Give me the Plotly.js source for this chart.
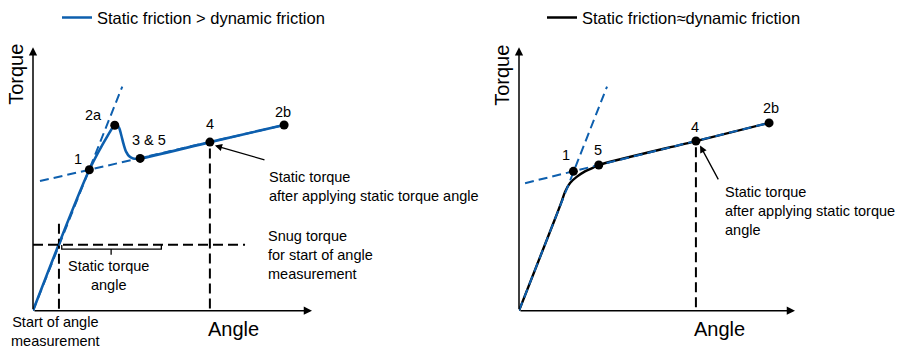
<!DOCTYPE html>
<html>
<head>
<meta charset="utf-8">
<script src="https://cdn.plot.ly/plotly-3.0.1.min.js"></script>
<style>html,body{margin:0;padding:0;background:#fff;}#chart{width:899px;height:350px;}</style>
</head>
<body>
<div id="chart"></div>
<script>
// ---------- Data (schematic units: angle 0-100, torque 0-100) ----------
// Left panel: static friction > dynamic friction
const leftCurveAngle  = [0, 20.2, 27.4, 28.8, 29.8, 30.8, 31.6, 32.5, 33.4, 34.6, 35.9, 38.4, 63.4, 90.0];
const leftCurveTorque = [0, 53.5, 67.6, 69.9, 70.5, 69.6, 66.8, 63.1, 60.3, 58.5, 57.8, 57.8, 64.0, 70.5];
const leftPointAngle  = [20.2, 29.3, 38.4, 63.4, 90.0];
const leftPointTorque = [53.5, 70.4, 57.8, 64.0, 70.5];
const leftPointLabels = ['1', '2a', '3 & 5', '4', '2b'];
const leftSteepAngle  = [0, 32];
const leftSteepTorque = [0, 85.1];
const leftFlatAngle   = [2.5, 90];
const leftFlatTorque  = [49.2, 70.5];
const snugAngle       = [0, 76];
const snugTorque      = [25, 25];
const snugStartAngle  = [9.3, 9.3];
const snugStartTorque = [33, 0];
const leftFinalAngle  = [63.4, 63.4];
const leftFinalTorque = [61.6, 0];
const bracketAngle    = [10.3, 10.3, 28, 28, 28, 46, 46];
const bracketTorque   = [24.9, 23.4, 23.4, 21.2, 23.4, 23.4, 24.9];

// Right panel: static friction ≈ dynamic friction
const rightCurveAngle  = [0, 13, 15.5, 16.7, 18.5, 20.9, 23.9, 26.9, 28.9, 64.1, 90.6];
const rightCurveTorque = [0, 34.7, 41.6, 45.2, 48.5, 50.8, 52.9, 54.3, 55.3, 64.4, 71.3];
const rightPointAngle  = [19.7, 28.9, 64.1, 90.6];
const rightPointTorque = [52.9, 55.3, 64.4, 71.3];
const rightPointLabels = ['1', '5', '4', '2b'];
const rightSteepAngle  = [0, 31.9];
const rightSteepTorque = [0, 85.1];
const rightFlatAngle   = [2.2, 90.6];
const rightFlatTorque  = [48.4, 71.3];
const rightFinalAngle  = [64.1, 64.1];
const rightFinalTorque = [62, 0];

const seriesNames = ['Static friction > dynamic friction', 'Static friction\u2248dynamic friction'];

// ---------- Styles ----------
const FONT = 'Liberation Sans, Arial, sans-serif';
const BLUE = '#0d5fae';
const BLACK = '#000000';
const leftLabelShift  = [[-11, 11], [-21, 10], [9, 18], [0, 18], [-1, 13]];
const rightLabelShift = [[-7, 16], [-1, 15], [-1, 14], [2, 15]];

function line(x, y, xa, ya, color, width, dash, extra) {
  return Object.assign({
    x: x, y: y, xaxis: xa, yaxis: ya, type: 'scatter', mode: 'lines',
    line: {color: color, width: width, dash: dash || 'solid'},
    hoverinfo: 'skip', showlegend: false, cliponaxis: false
  }, extra || {});
}

const traces = [
  // left
  line(leftCurveAngle, leftCurveTorque, 'x', 'y', BLUE, 2.6, 'solid',
       {name: seriesNames[0], showlegend: true, legend: 'legend', line: {color: BLUE, width: 2.6, shape: 'spline', smoothing: 0.8}}),
  line(snugAngle, snugTorque, 'x', 'y', BLACK, 2, '10px,5px'),
  line(snugStartAngle, snugStartTorque, 'x', 'y', BLACK, 2, '10px,5px'),
  line(leftFinalAngle, leftFinalTorque, 'x', 'y', BLACK, 2, '10px,5px'),
  line(bracketAngle, bracketTorque, 'x', 'y', BLACK, 1.3),
  line(leftSteepAngle, leftSteepTorque, 'x', 'y', BLUE, 2, '9px,5px'),
  line(leftFlatAngle, leftFlatTorque, 'x', 'y', BLUE, 2, '9px,5px'),
  {x: leftPointAngle, y: leftPointTorque, xaxis: 'x', yaxis: 'y', type: 'scatter', mode: 'markers',
   marker: {color: BLACK, size: 9}, hoverinfo: 'skip', showlegend: false, cliponaxis: false},
  // right
  line(rightCurveAngle, rightCurveTorque, 'x2', 'y2', BLACK, 2.4, 'solid',
       {name: seriesNames[1], showlegend: true, legend: 'legend2', line: {color: BLACK, width: 2.4, shape: 'spline', smoothing: 0.8}}),
  line(rightFinalAngle, rightFinalTorque, 'x2', 'y2', BLACK, 2, '10px,5px'),
  line(rightSteepAngle, rightSteepTorque, 'x2', 'y2', BLUE, 2, '9px,5px'),
  line(rightFlatAngle, rightFlatTorque, 'x2', 'y2', BLUE, 2, '9px,5px'),
  {x: rightPointAngle, y: rightPointTorque, xaxis: 'x2', yaxis: 'y2', type: 'scatter', mode: 'markers',
   marker: {color: BLACK, size: 9}, hoverinfo: 'skip', showlegend: false, cliponaxis: false}
];

const txt = (size) => ({family: FONT, size: size, color: BLACK});
const W = 899, H = 350;
const px = (v) => v / W, py = (v) => (H - v) / H;
const annotations = [];

// point labels
leftPointLabels.forEach((t, i) => annotations.push({
  xref: 'x', yref: 'y', x: leftPointAngle[i], y: leftPointTorque[i], text: t, showarrow: false,
  xshift: leftLabelShift[i][0], yshift: leftLabelShift[i][1], font: txt(14.5)
}));
rightPointLabels.forEach((t, i) => annotations.push({
  xref: 'x2', yref: 'y2', x: rightPointAngle[i], y: rightPointTorque[i], text: t, showarrow: false,
  xshift: rightLabelShift[i][0], yshift: rightLabelShift[i][1], font: txt(14.5)
}));

// axis arrows
[['x', 'y'], ['x2', 'y2']].forEach(([xa, ya]) => {
  annotations.push({xref: xa, yref: ya, axref: xa, ayref: ya, x: 100, y: 0, ax: 0, ay: 0, text: '',
    showarrow: true, arrowhead: 2, arrowwidth: 1.5, arrowsize: 1.1, arrowcolor: BLACK, standoff: 0});
  annotations.push({xref: xa, yref: ya, axref: xa, ayref: ya, x: 0, y: 100, ax: 0, ay: 0, text: '',
    showarrow: true, arrowhead: 2, arrowwidth: 1.5, arrowsize: 1.1, arrowcolor: BLACK, standoff: 0});
});
// axis names (paper-positioned, outside plot ranges)
const paperText = (x, y, text, size, extra) => Object.assign({
  xref: 'paper', yref: 'paper', x: px(x), y: py(y), xanchor: 'center', yanchor: 'middle',
  text: text, showarrow: false, font: txt(size)
}, extra || {});
annotations.push(paperText(16, 70, 'Torque', 20, {textangle: -90}));
annotations.push(paperText(502, 70, 'Torque', 20, {textangle: -90}));
annotations.push(paperText(233, 328.4, 'Angle', 20));
annotations.push(paperText(719, 328.4, 'Angle', 20));
annotations.push(paperText(55.5, 331.5, 'Start of angle<br>measurement', 14.5, {align: 'center'}));

// pointer arrows
annotations.push({xref: 'x', yref: 'y', axref: 'x', ayref: 'y', x: 65.2, y: 62.7, ax: 83.5, ay: 57.1, text: '',
  showarrow: true, arrowhead: 2, arrowwidth: 1.3, arrowsize: 1.1, arrowcolor: BLACK, standoff: 0});
annotations.push({xref: 'x2', yref: 'y2', axref: 'x2', ayref: 'y2', x: 65.6, y: 62.7, ax: 72.5, ay: 49.3, text: '',
  showarrow: true, arrowhead: 2, arrowwidth: 1.3, arrowsize: 1.1, arrowcolor: BLACK, standoff: 0});

// descriptive texts
annotations.push({xref: 'x', yref: 'y', x: 83.8, y: 47.3, xanchor: 'left', align: 'left', showarrow: false,
  text: 'Static torque<br>after applying static torque angle', font: txt(14.5)});
annotations.push({xref: 'x', yref: 'y', x: 83.4, y: 21.3, xanchor: 'left', align: 'left', showarrow: false,
  text: 'Snug torque<br>for start of angle<br>measurement', font: txt(14.5)});
annotations.push({xref: 'x', yref: 'y', x: 27.2, y: 13.2, align: 'center', showarrow: false,
  text: 'Static torque<br>angle', font: txt(14.5)});
annotations.push({xref: 'x2', yref: 'y2', x: 73.8, y: 37.9, xanchor: 'left', align: 'left', showarrow: false,
  text: 'Static torque<br>after applying static torque<br>angle', font: txt(14.5)});

const hiddenAxis = (domain, range) => ({domain: domain, range: range, visible: false, fixedrange: true});

const layout = {
  width: W, height: H,
  margin: {l: 0, r: 0, t: 0, b: 0},
  paper_bgcolor: '#fff', plot_bgcolor: 'rgba(0,0,0,0)',
  font: {family: FONT, color: BLACK},
  xaxis:  hiddenAxis([33 / W, 312 / W], [0, 100]),
  yaxis:  Object.assign(hiddenAxis([40 / H, 308 / H], [0, 100]), {anchor: 'x'}),
  xaxis2: Object.assign(hiddenAxis([519 / W, 795 / W], [0, 100]), {anchor: 'y2'}),
  yaxis2: Object.assign(hiddenAxis([40 / H, 308 / H], [0, 100]), {anchor: 'x2'}),
  legend:  {x: 57 / W, y: 338 / H, xanchor: 'left', yanchor: 'middle', bgcolor: 'rgba(0,0,0,0)',
            font: {family: FONT, size: 16.5, color: BLACK}, itemclick: false, itemdoubleclick: false},
  legend2: {x: 542 / W, y: 338 / H, xanchor: 'left', yanchor: 'middle', bgcolor: 'rgba(0,0,0,0)',
            font: {family: FONT, size: 16.5, color: BLACK}, itemclick: false, itemdoubleclick: false},
  annotations: annotations,
  showlegend: true
};

Plotly.newPlot('chart', traces, layout, {displayModeBar: false, staticPlot: true});
</script>
</body>
</html>
